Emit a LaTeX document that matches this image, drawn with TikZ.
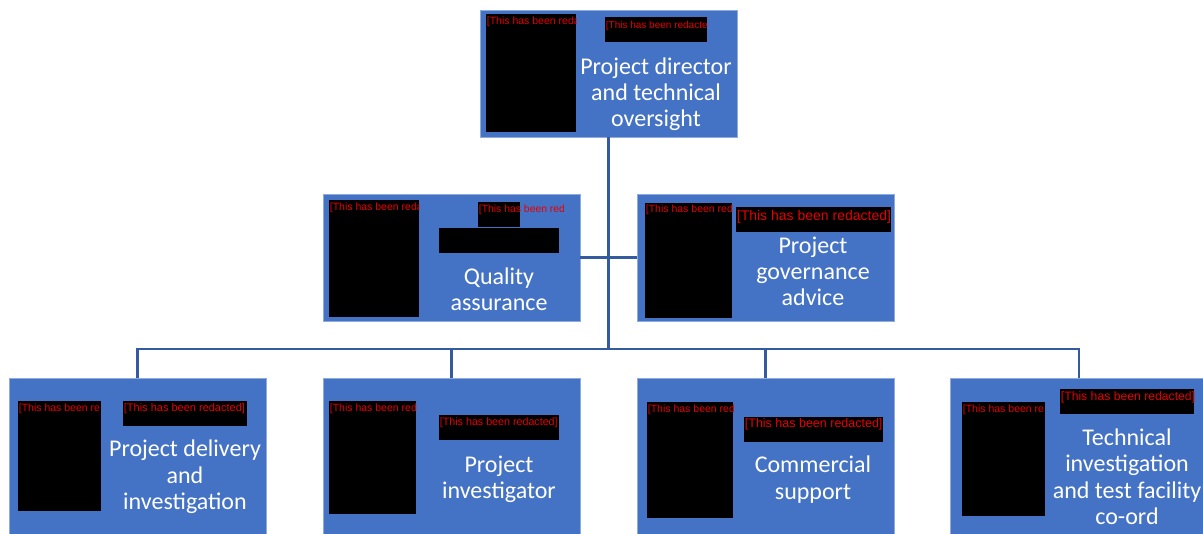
\documentclass[tikz,border=0pt]{standalone}
\usepackage{fontspec}
\setmainfont{Carlito}
\newfontfamily\redfont{Liberation Sans}
\definecolor{boxblue}{RGB}{68,114,196}
\definecolor{boxedge}{RGB}{143,170,220}
\definecolor{linkblue}{RGB}{52,90,160}
\definecolor{redtext}{RGB}{230,0,0}

% black redaction block with its (clipped) red caption
% #1,#2 top-left  #3,#4 bottom-right  #5 clip x  #6 baseline y  #7 font size  #8 node name  #9 caption
\newcommand\redbox[9]{%
  \fill[black] (#1,#2) rectangle (#3,#4);
  \begin{scope}
    \clip (#1,#2) rectangle (#5,#4);
    \node[anchor=base west, inner sep=0pt, text=redtext,
          font=\redfont\fontsize{#7}{#7}\selectfont] (#8) at (#1+0.7,#6) {#9};
  \end{scope}}

\tikzset{
  orgbox/.style={rectangle, fill=boxblue, draw=boxedge, line width=0.8pt,
                 inner sep=0pt, outer sep=0pt},
  role/.style={anchor=north, inner sep=0pt, align=center, text=white,
               font=\fontsize{24}{26.3}\selectfont},
  conn/.style={draw=linkblue, line width=2.6pt}
}
\newcommand\firstline{\rule{0pt}{18pt}}

\begin{document}
\begin{tikzpicture}[x=1pt,y=-1pt]
\useasboundingbox (0,0) rectangle (1203,534);

% ---- boxes ----
\node[orgbox, minimum width=257pt, minimum height=127pt] (top) at (608.5,73.5) {};
\node[orgbox, minimum width=257pt, minimum height=127pt] (qa)  at (451.5,257.5) {};
\node[orgbox, minimum width=257pt, minimum height=127pt] (gov) at (765.5,257.5) {};
\node[orgbox, minimum width=257pt, minimum height=167pt] (b1) at (137.5,462) {};
\node[orgbox, minimum width=257pt, minimum height=167pt] (b2) at (451.5,462) {};
\node[orgbox, minimum width=257pt, minimum height=167pt] (b3) at (765.5,462) {};
\node[orgbox, minimum width=257pt, minimum height=167pt] (b4) at (1079,462) {};

% ---- connectors ----
\coordinate (bus) at (608.5,349);
\draw[conn] (top.south) -- (top.south |- bus);
\draw[conn] (qa.east) -- (gov.west);
\draw[conn] (b1.north) |- (bus) -| (b4.north);
\draw[conn] (b2.north) -- (b2.north |- bus);
\draw[conn] (b3.north) -- (b3.north |- bus);

% ---- redactions ----
\redbox{486}{14}{576}{132}{576}{25}{10.5}{topA}{[This has been reda}
\redbox{605}{17}{707}{42}{707}{29}{10}{topB}{[This has been redacte}

\redbox{329}{200}{419}{317}{419}{211}{10.5}{qaA}{[This has been reda}
\redbox{478}{202}{520}{227}{563}{213}{10.4}{qaB}{[This has been red}
\fill[black] (439,228) rectangle (559,253);

\redbox{645}{203}{732}{318}{732}{213}{10.5}{govA}{[This has been red}
\redbox{736}{207}{891}{232}{891}{221}{14}{govB}{[This has been redacted]}

\redbox{18}{401}{101}{511}{101}{412}{10.5}{bA}{[This has been re}
\redbox{123}{401}{247}{426}{247}{412}{11}{bB}{[This has been redacted]}
\redbox{329}{401}{416}{514}{416}{412}{10.5}{cA}{[This has been red}
\redbox{439}{415}{559}{440}{559}{426}{10.7}{cB}{[This has been redacted]}
\redbox{647}{402}{733}{518}{733}{413}{10.5}{dA}{[This has been red}
\redbox{744}{417}{883}{442}{883}{428}{12.5}{dB}{[This has been redacted]}
\redbox{962}{402}{1045}{516}{1045}{413}{10.5}{eA}{[This has been re}
\redbox{1060}{389}{1194}{414}{1194}{401}{12.2}{eB}{[This has been redacted]}

% ---- role titles ----
\node[role] (topT) at (656,56.1) {\firstline Project director\\and technical\\oversight};
\node[role] (qaT)  at (499,266.4) {\firstline Quality\\assurance};
\node[role] (govT) at (813,235) {\firstline Project\\governance\\advice};
\node[role] (b1T)  at (185,438.6) {\firstline Project delivery\\and\\investigation};
\node[role] (b2T)  at (499,454.4) {\firstline Project\\investigator};
\node[role] (b3T)  at (813,454.6) {\firstline Commercial\\support};
\node[role] (b4T)  at (1127,427.4) {\firstline Technical\\investigation\\and test facility\\co-ord};
\end{tikzpicture}
\end{document}
